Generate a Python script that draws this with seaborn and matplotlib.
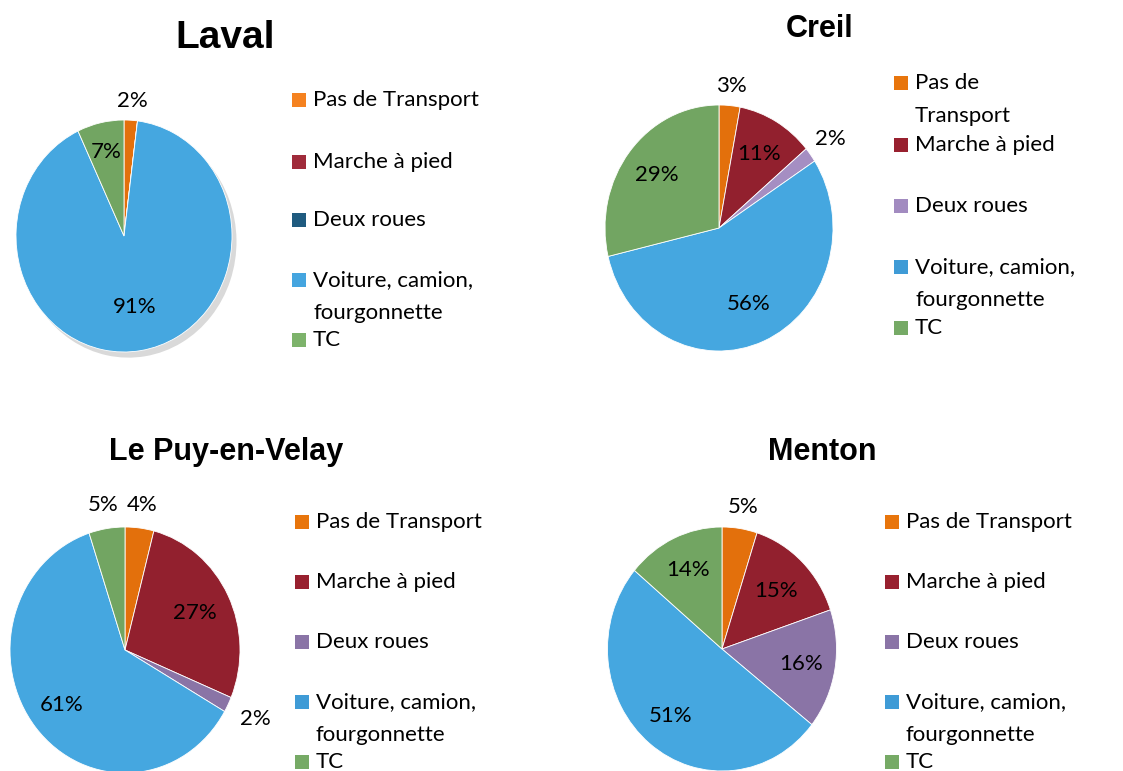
import matplotlib
matplotlib.use("Agg")
import matplotlib.pyplot as plt
import seaborn as sns
import numpy as np
from matplotlib.patches import Rectangle

# modal share by city (%), pies start at 12 o'clock, clockwise
categories = ["Pas de Transport", "Marche à pied", "Deux roues",
              "Voiture, camion,\nfourgonnette", "TC"]
creil_categories = ["Pas de\nTransport", "Marche à pied", "Deux roues",
                    "Voiture, camion,\nfourgonnette", "TC"]
cities = ["Laval", "Creil", "Le Puy-en-Velay", "Menton"]
laval = [2, 0, 0, 91, 7]
creil = [3, 11, 2, 56, 29]
le_puy = [4, 27, 2, 61, 5]
menton = [5, 15, 16, 51, 14]

sns.set_theme(style="white")
body_font = ["Lato", "DejaVu Sans"]
title_font = ["Liberation Sans Narrow", "Liberation Sans", "DejaVu Sans"]
plt.rcParams["font.family"] = body_font
plt.rcParams["text.color"] = "black"

W, H = 1123, 771
fig = plt.figure(figsize=(W / 100, H / 100), dpi=100)
fig.patch.set_facecolor("white")

pie_cols = ["#E3700C", "#92202E", "#8A74A6", "#45A7E0", "#72A562"]
creil_pie_cols = ["#E3700C", "#92202E", "#A58EC2", "#45A7E0", "#72A562"]
legend_cols = {
    "Laval": ["#F58220", "#A02B3B", "#1F5B7F", "#45A5DF", "#7DB36B"],
    "Creil": ["#E8750C", "#98202F", "#A28BC0", "#3F9BD6", "#76AA66"],
    "Le Puy-en-Velay": ["#E8750C", "#98202F", "#8A74A6", "#3F9BD6", "#76AA66"],
    "Menton": ["#E8750C", "#98202F", "#8A74A6", "#3F9BD6", "#76AA66"],
}

# layout in pixels: pie centre, radii, title, legend
panels = [
    dict(name="Laval", vals=laval, labels=categories, cx=124, cy=236, rx=108, ry=116,
         tx=225, ty=38, tsize=28, lx=292, ly=[100, 162, 220, 280, 340],
         dist=[1.17, 0.7, 0.7, 0.62, 0.74], cols=pie_cols, shadow=True),
    dict(name="Creil", vals=creil, labels=creil_categories, cx=719, cy=228, rx=114, ry=123,
         tx=820, ty=29, tsize=22, lx=894, ly=[83, 145, 206, 267, 328],
         dist=[1.16, 0.7, 1.22, 0.67, 0.69], cols=creil_pie_cols, shadow=False),
    dict(name="Le Puy-en-Velay", vals=le_puy, labels=categories, cx=125, cy=650, rx=115, ry=123,
         tx=226, ty=452, tsize=22, lx=295, ly=[522, 582, 642, 702, 762],
         dist=[1.19, 0.68, 1.27, 0.71, 1.19], cols=pie_cols, shadow=False),
    dict(name="Menton", vals=menton, labels=categories, cx=722, cy=649, rx=114.5, ry=122,
         tx=822, ty=452, tsize=22, lx=885, ly=[522, 582, 642, 702, 762],
         dist=[1.18, 0.67, 0.7, 0.71, 0.71], cols=pie_cols, shadow=False),
]

for p in panels:
    ax = fig.add_axes([(p["cx"] - p["rx"]) / W, 1 - (p["cy"] + p["ry"]) / H,
                       2 * p["rx"] / W, 2 * p["ry"] / H])
    lbls = [f"{v}%" if v > 0 else "" for v in p["vals"]]
    kw = {}
    if p["shadow"]:
        kw["shadow"] = dict(ox=0.03, oy=-0.035, facecolor="#c9c9c9",
                            edgecolor="none", alpha=0.7)
    wedges, texts = ax.pie(p["vals"], labels=lbls, colors=p["cols"], startangle=90,
                           counterclock=False, radius=1,
                           wedgeprops=dict(linewidth=0.6, edgecolor="white"),
                           textprops=dict(fontsize=16, color="black"), **kw)
    for w, t, d in zip(wedges, texts, p["dist"]):
        th = np.deg2rad((w.theta1 + w.theta2) / 2)
        t.set_position((d * np.cos(th), d * np.sin(th)))
        t.set_ha("center")
        t.set_va("center")
        t.set_clip_on(False)
    ax.set_aspect("auto")
    ax.set_xlim(-1, 1)
    ax.set_ylim(-1, 1)
    ax.axis("off")

    fig.text(p["tx"] / W, 1 - p["ty"] / H, p["name"], ha="center", va="center",
             fontsize=p["tsize"], fontweight="bold", family=title_font, color="black")

    for lab, y, c in zip(p["labels"], p["ly"], legend_cols[p["name"]]):
        fig.add_artist(Rectangle((p["lx"] / W, 1 - (y + 7) / H), 14 / W, 14 / H,
                                 transform=fig.transFigure, facecolor=c,
                                 edgecolor="none"))
        for k, line in enumerate(lab.split("\n")):
            fig.text((p["lx"] + 21) / W, 1 - (y + 33 * k) / H, line,
                     ha="left", va="center", fontsize=16, color="black")

fig.savefig("out.png", dpi=100, facecolor="white")
